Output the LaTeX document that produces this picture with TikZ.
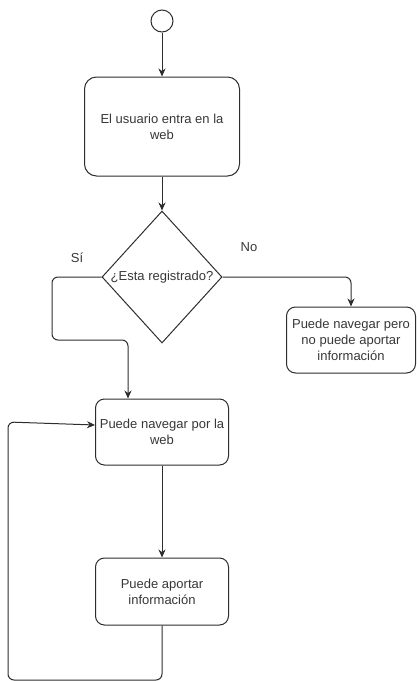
\documentclass[tikz,border=0pt]{standalone}
\usepackage{fontspec}
\setmainfont{Liberation Sans}
\usepackage{xcolor}
\usepackage{tikz}
\usetikzlibrary{positioning, shapes.geometric, arrows.meta}
\definecolor{flowink}{RGB}{45,45,45}
\definecolor{flowtext}{RGB}{55,55,55}

\begin{document}
\begin{tikzpicture}[
        x=1pt, y=-1pt,
        every node/.style={font=\fontsize{13}{16}\selectfont, text=flowtext},
        startpt/.style={circle, draw=flowink, line width=1pt, minimum size=22pt, inner sep=0pt},
        action/.style={rectangle, draw=flowink, line width=1pt, rounded corners=9pt, minimum width=133pt, minimum height=66pt, align=center, inner sep=2pt},
        decision/.style={diamond, draw=flowink, line width=1pt, minimum width=120pt, minimum height=132pt, inner sep=0pt, align=center},
        arrow/.style={->, >={Stealth[length=8pt, width=7pt]}, line width=1pt, flowink, rounded corners=6pt}
    ]
        \useasboundingbox (0,0) rectangle (417,681);

        % Nodes
        \node[startpt] (start) at (162,21) {};
        \node[action, below=44pt of start, minimum width=155pt, minimum height=99pt, rounded corners=12pt] (entra) {El usuario entra en la\\web};
        \node[decision, below=34pt of entra] (registro) {¿Esta registrado?};
        \node[action, below=55pt of registro] (navegar) {Puede navegar por la\\web};
        \node[action, below=92pt of navegar, minimum height=67pt] (aportar) {Puede aportar\\información};
        \node[action, minimum width=129pt] (sinaporte) at (351,340) {Puede navegar pero\\no puede aportar\\información};

        % Labels
        \node (si) at (77,258) {Sí};
        \node (no) at (249,247) {No};

        % Connections
        \draw[arrow] (start) -- (entra);
        \draw[arrow] (entra) -- (registro);
        \draw[arrow] (registro.west) -| (52,340) -| ([xshift=-34pt]navegar.north);
        \draw[arrow] (registro.east) -| (sinaporte.north);
        \draw[arrow] (navegar) -- (aportar);
        \draw[arrow] (aportar.south) -- (162,680) -| (8,422) -- ([yshift=7pt]navegar.west);

    \end{tikzpicture}
\end{document}
